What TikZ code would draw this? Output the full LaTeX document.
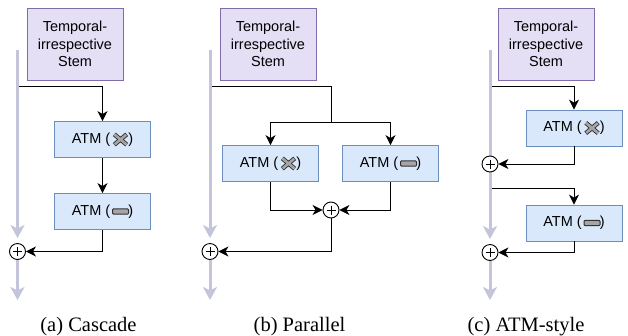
\documentclass[tikz,border=0pt]{standalone}
\usepackage{fontspec}
\setmainfont{Liberation Serif}
\setsansfont{Liberation Sans}
\usetikzlibrary{arrows.meta,calc,backgrounds}
\definecolor{stemfill}{RGB}{228,223,245}
\definecolor{stemdraw}{RGB}{128,108,170}
\definecolor{atmfill}{RGB}{218,232,252}
\definecolor{atmdraw}{RGB}{108,142,191}
\definecolor{flow}{RGB}{196,196,218}
\definecolor{icongray}{RGB}{165,165,165}
\definecolor{icondark}{RGB}{50,50,50}
\tikzset{
 stembox/.style={draw=stemdraw, fill=stemfill, line width=0.8pt, minimum width=96pt, minimum height=72pt, inner sep=0pt, align=center, font=\sffamily\fontsize{14.5}{17.5}\selectfont},
 atmbox/.style={draw=atmdraw, fill=atmfill, line width=0.8pt, minimum width=96pt, minimum height=36pt, inner sep=0pt, font=\sffamily\fontsize{14.5}{16}\selectfont},
 sumnode/.style={circle, draw=black, fill=white, line width=0.9pt, minimum size=16pt, inner sep=0pt},
 flowline/.style={draw=flow, line width=3pt, -{Stealth[length=13pt,width=14pt,inset=3.5pt]}},
 link/.style={draw=black, line width=0.9pt},
 linkarrow/.style={link, -{Stealth[length=10pt,width=10pt,inset=3pt]}},
 caption/.style={font=\fontsize{20.5}{24}\selectfont, anchor=base},
 crossicon/.pic={
   \draw[icondark, line width=4.4pt] (-6.2,-5.2)--(6.2,5.2) (-6.2,5.2)--(6.2,-5.2);
   \draw[icongray, line width=2.6pt, shorten >=0.6pt, shorten <=0.6pt] (-6.2,-5.2)--(6.2,5.2) (-6.2,5.2)--(6.2,-5.2);
 },
 baricon/.pic={
   \draw[icondark, fill=icongray, line width=1pt, rounded corners=1pt] (-8,-2.7) rectangle (8,2.7);
 },
}
\begin{document}
\begin{tikzpicture}[x=1pt,y=-1pt]
\useasboundingbox (0,0) rectangle (628,335);
% ---------- (a) Cascade
\node[stembox] (sa) at (75,44) {Temporal-\\irrespective\\Stem};
\coordinate (fa0) at (17.5,50);
\coordinate (fa1) at (17.5,300);
\coordinate (ja) at (19,86);
\node[sumnode] (pa) at (17.5,251.5) {};
\node[atmbox] (a1) at (102.5,139.5) {ATM (\hspace{18pt})};
\node[atmbox] (a2) at (102.5,211.5) {ATM (\hspace{18pt})};
\pic at ($(a1.center)+(18,0)$) {crossicon};
\pic at ($(a2.center)+(18,0)$) {baricon};
\draw[linkarrow] (ja) -| (a1.north);
\draw[linkarrow] (a1) -- (a2);
\draw[linkarrow] (a2.south) |- (pa.east);
\node[caption] (ca) at (88.5,331) {(a) Cascade};
% ---------- (b) Parallel
\node[stembox] (sb) at (268,44) {Temporal-\\irrespective\\Stem};
\coordinate (fb0) at (210,50);
\coordinate (fb1) at (210,300);
\coordinate (jb) at (211.5,86);
\coordinate (kb) at (331,122);
\node[sumnode] (pb) at (210,251.5) {};
\node[atmbox] (b1) at (270.5,163.5) {ATM (\hspace{18pt})};
\node[atmbox] (b2) at (390.5,163.5) {ATM (\hspace{18pt})};
\pic at ($(b1.center)+(18,0)$) {crossicon};
\pic at ($(b2.center)+(18,0)$) {baricon};
\node[sumnode] (qb) at (331,210) {};
\draw[link] (jb) -| (kb);
\draw[linkarrow] (kb) -| (b1.north);
\draw[linkarrow] (kb) -| (b2.north);
\draw[linkarrow] (b1.south) |- (qb.west);
\draw[linkarrow] (b2.south) |- (qb.east);
\draw[linkarrow] (qb.south) |- (pb.east);
\node[caption] (cb) at (299.5,331) {(b) Parallel};
% ---------- (c) ATM-style
\node[stembox] (sc) at (546,44) {Temporal-\\irrespective\\Stem};
\coordinate (fc0) at (490,50);
\coordinate (fc1) at (490,300);
\coordinate (jc1) at (491.5,86);
\coordinate (jc2) at (491.5,188);
\node[sumnode] (pc1) at (490,164) {};
\node[sumnode] (pc2) at (490,252.5) {};
\node[atmbox] (c1) at (574,128) {ATM (\hspace{18pt})};
\node[atmbox] (c2) at (574,223) {ATM (\hspace{18pt})};
\pic at ($(c1.center)+(18,0)$) {crossicon};
\pic at ($(c2.center)+(18,0)$) {baricon};
\draw[linkarrow] (jc1) -| (c1.north);
\draw[linkarrow] (c1.south) |- (pc1.east);
\draw[linkarrow] (jc2) -| (c2.north);
\draw[linkarrow] (c2.south) |- (pc2.east);
\node[caption] (cc) at (526,331) {(c) ATM-style};
% plus signs
\foreach \s in {pa,pb,qb,pc1,pc2}{
  \draw[link] ($(\s.center)+(-4.5,0)$) -- ($(\s.center)+(4.5,0)$);
  \draw[link] ($(\s.center)+(0,-4.5)$) -- ($(\s.center)+(0,4.5)$);
}
% gray flow lines behind
\begin{pgfonlayer}{background}
\draw[flowline, shorten >=5pt] (fa0) -- (pa.north);
\draw[flowline] (pa.south) -- (fa1);
\draw[flowline, shorten >=5pt] (fb0) -- (pb.north);
\draw[flowline] (pb.south) -- (fb1);
\draw[flowline, shorten >=5pt] (fc0) -- (pc2.north);
\draw[flowline] (pc2.south) -- (fc1);
\end{pgfonlayer}
\end{tikzpicture}
\end{document}
